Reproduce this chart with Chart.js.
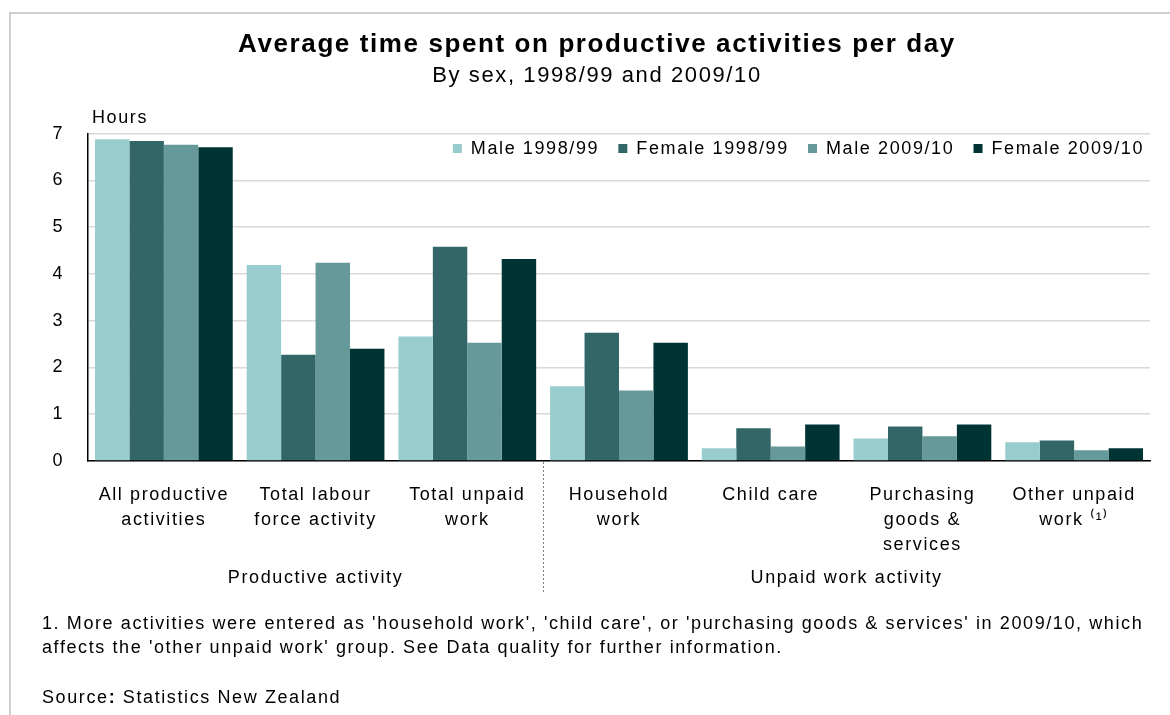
<!DOCTYPE html>
<html>
<head>
<meta charset="utf-8">
<title>Average time spent on productive activities per day</title>
<script src="https://cdn.jsdelivr.net/npm/chart.js@4.4.1/dist/chart.umd.min.js"></script>
<style>
    html, body { margin: 0; padding: 0; background: #fff; }
    body {
        width: 1170px;
        height: 715px;
        position: relative;
        overflow: hidden;
        font-family: "Liberation Sans", Arial, sans-serif;
    }
    #frame {
        position: absolute;
        left: 9px;
        top: 12px;
        right: -10px;
        bottom: -10px;
        border-top: 2px solid #cfcfcf;
        border-left: 2px solid #cfcfcf;
    }
    #chartCanvas { position: absolute; left: 0; top: 0; }
    .note {
        position: absolute;
        left: 42px;
        font-size: 18px;
        line-height: 24px;
        letter-spacing: 1.6px;
        color: #000;
        white-space: nowrap;
    }
</style>
</head>
<body>
<div id="frame"></div>
<canvas id="chartCanvas" width="1170" height="715"></canvas>
<div class="note" style="top: 611px;">1. More activities were entered as 'household work', 'child care', or 'purchasing goods &amp; services' in 2009/10, which<br>affects the 'other unpaid work' group. See Data quality for further information.</div>
<div class="note" style="top: 685px;">Source<b>:</b> Statistics New Zealand</div>

<script>
// Hours per day by activity, sex and survey year
const categories = [
    ['All productive', 'activities'],
    ['Total labour', 'force activity'],
    ['Total unpaid', 'work'],
    ['Household', 'work'],
    ['Child care'],
    ['Purchasing', 'goods &', 'services'],
    ['Other unpaid', 'work \u207D\u00B9\u207E']
];
const seriesNames = ['Male 1998/99', 'Female 1998/99', 'Male 2009/10', 'Female 2009/10'];
const male1998 = [6.88, 4.19, 2.66, 1.60, 0.27, 0.48, 0.40];
const female1998 = [6.84, 2.27, 4.58, 2.74, 0.70, 0.74, 0.44];
const male2009 = [6.76, 4.24, 2.53, 1.51, 0.31, 0.53, 0.23];
const female2009 = [6.71, 2.40, 4.32, 2.53, 0.78, 0.78, 0.27];
const yTicks = [0, 1, 2, 3, 4, 5, 6, 7];

// category index ranges for the two headings under the axis
const groupLabels = ['Productive activity', 'Unpaid work activity'];
const groupSpans = [[0, 2], [3, 6]];

const colors = ['#99cccc', '#336666', '#669999', '#003333'];
const FONT = '"Liberation Sans", Arial, sans-serif';
const LETTER_SPACING = '1.6px';

Chart.defaults.font.family = FONT;
Chart.defaults.color = '#000';

// wider letter spacing for all canvas text
const spacingPlugin = {
    id: 'letterSpacing',
    beforeLayout(chart) { chart.ctx.letterSpacing = LETTER_SPACING; },
    beforeDraw(chart) { chart.ctx.letterSpacing = LETTER_SPACING; }
};

// the legend is laid out as a top row, then moved down inside the plot area
const legendInsidePlugin = {
    id: 'legendInside',
    afterLayout(chart) {
        const legend = chart.legend;
        if (!legend) return;
        const dy = chart.chartArea.top - legend.top;
        legend.top += dy;
        legend.bottom += dy;
    }
};

// "Hours" unit, dotted divider and group headings below the categories
const groupsPlugin = {
    id: 'groupHeadings',
    afterDraw(chart) {
        const { ctx, chartArea, scales: { x } } = chart;
        ctx.save();
        ctx.letterSpacing = LETTER_SPACING;
        ctx.font = '18px ' + FONT;
        ctx.fillStyle = '#000';
        ctx.textBaseline = 'middle';

        ctx.textAlign = 'left';
        ctx.fillText('Hours', chartArea.left + 4, chartArea.top - 16);

        const sepX = Math.round(x.getPixelForValue(groupSpans[0][1] + 0.5)) + 0.5;
        ctx.strokeStyle = '#808080';
        ctx.lineWidth = 1;
        ctx.setLineDash([2, 2]);
        ctx.beginPath();
        ctx.moveTo(sepX, chartArea.bottom + 1);
        ctx.lineTo(sepX, chartArea.bottom + 131);
        ctx.stroke();

        ctx.textAlign = 'center';
        groupLabels.forEach((label, i) => {
            const [from, to] = groupSpans[i];
            ctx.fillText(label, x.getPixelForValue((from + to) / 2), chartArea.bottom + 117);
        });
        ctx.restore();
    }
};

const seriesData = [male1998, female1998, male2009, female2009];

new Chart(document.getElementById('chartCanvas'), {
    type: 'bar',
    data: {
        labels: categories,
        datasets: seriesNames.map((name, i) => ({
            label: name,
            data: seriesData[i],
            backgroundColor: colors[i],
            borderWidth: 0,
            barPercentage: 1,
            categoryPercentage: 0.908
        }))
    },
    options: {
        responsive: false,
        animation: false,
        layout: {
            padding: { left: 44, right: 20, top: 0, bottom: 129 }
        },
        plugins: {
            title: {
                display: true,
                text: 'Average time spent on productive activities per day',
                color: '#000',
                font: { size: 26, weight: 'bold', lineHeight: 1.2 },
                padding: { top: 29, bottom: 0 }
            },
            subtitle: {
                display: true,
                text: 'By sex, 1998/99 and 2009/10',
                color: '#000',
                font: { size: 22, lineHeight: 1.2 },
                padding: { top: 3, bottom: 10 }
            },
            legend: {
                position: 'top',
                align: 'end',
                labels: {
                    boxWidth: 9,
                    boxHeight: 9,
                    padding: 6,
                    color: '#000',
                    font: { size: 18 },
                    generateLabels(chart) {
                        const items = Chart.defaults.plugins.legend.labels.generateLabels(chart);
                        items.forEach((item, i) => {
                            if (i < items.length - 1) item.text += '  ';
                            item.lineWidth = 0;
                        });
                        return items;
                    }
                }
            },
            tooltip: { enabled: false }
        },
        scales: {
            x: {
                grid: { display: false },
                border: { color: '#000', width: 1.5 },
                ticks: {
                    color: '#000',
                    font: { size: 18, lineHeight: 25 / 18 },
                    padding: 14,
                    maxRotation: 0,
                    autoSkip: false
                },
                afterFit(scale) { scale.height = 125; }
            },
            y: {
                min: yTicks[0],
                max: yTicks[yTicks.length - 1],
                afterBuildTicks(scale) { scale.ticks = yTicks.map(v => ({ value: v })); },
                ticks: { color: '#000', font: { size: 18 }, padding: 24 },
                grid: { color: '#d9d9d9', lineWidth: 1.5, drawTicks: false },
                border: { color: '#000', width: 1.5 },
                afterFit(scale) { scale.width = 44; }
            }
        }
    },
    plugins: [spacingPlugin, legendInsidePlugin, groupsPlugin]
});
</script>
</body>
</html>
